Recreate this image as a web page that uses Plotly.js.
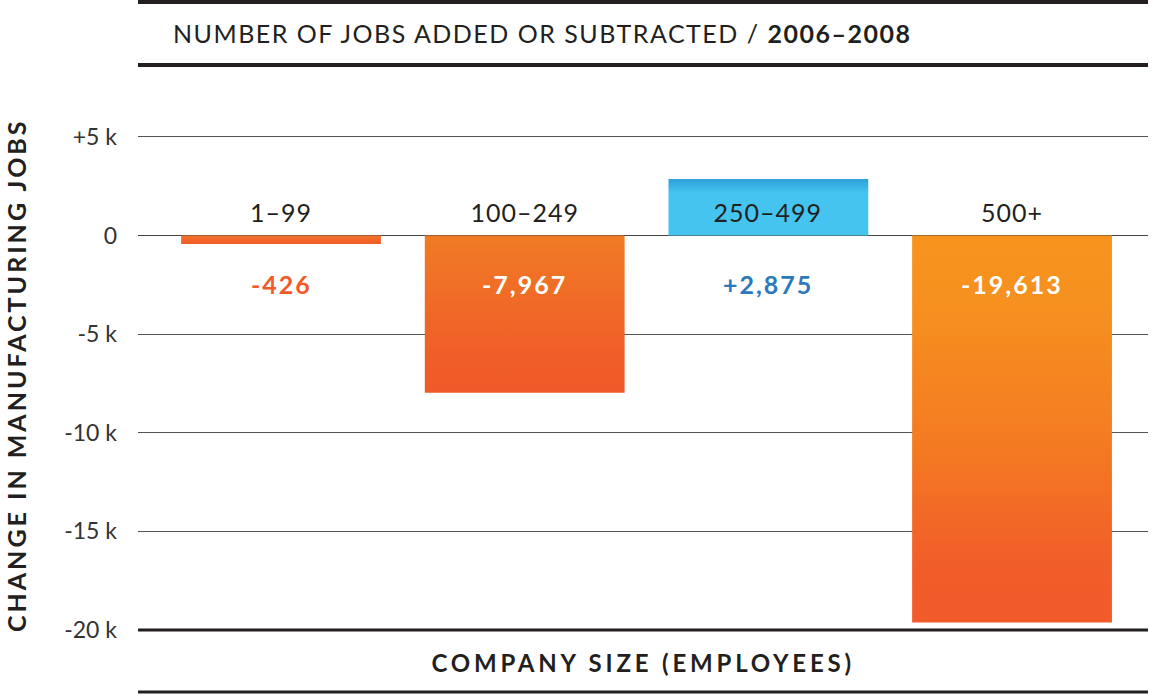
<!DOCTYPE html>
<html><head><meta charset="utf-8">
<script src="https://cdn.plot.ly/plotly-3.0.1.min.js"></script>
<style>
html,body{margin:0;padding:0;background:#fff}
#chart{width:1153px;height:700px}
.gtitle{letter-spacing:1.5px}
g.annotation[data-index="0"] text, g.annotation[data-index="1"] text,
g.annotation[data-index="2"] text, g.annotation[data-index="3"] text{letter-spacing:1px}
g.annotation[data-index="4"] text, g.annotation[data-index="5"] text,
g.annotation[data-index="6"] text, g.annotation[data-index="7"] text{letter-spacing:2px}
g.annotation[data-index="8"] text{letter-spacing:3px}
g.annotation[data-index="9"] text{letter-spacing:3.8px}
.barlayer .point:nth-child(1) path{fill:url(#bargrad0) !important}
.barlayer .point:nth-child(2) path{fill:url(#bargrad1) !important}
.barlayer .point:nth-child(3) path{fill:url(#bargrad2) !important}
.barlayer .point:nth-child(4) path{fill:url(#bargrad3) !important}
</style>
</head><body>
<svg width="0" height="0" style="position:absolute;left:0;top:0" aria-hidden="true">
  <defs>
    <linearGradient id="bargrad0" x1="0" y1="0" x2="0" y2="1">
      <stop offset="0" stop-color="#f3742a"/><stop offset="1" stop-color="#f05a28"/>
    </linearGradient>
    <linearGradient id="bargrad1" x1="0" y1="0" x2="0" y2="1">
      <stop offset="0" stop-color="#f07b25"/><stop offset="0.75" stop-color="#f05e28"/><stop offset="1" stop-color="#f05a28"/>
    </linearGradient>
    <linearGradient id="bargrad2" x1="0" y1="0" x2="0" y2="1">
      <stop offset="0" stop-color="#2e9fd8"/><stop offset="0.25" stop-color="#45c4f0"/><stop offset="1" stop-color="#45c4f0"/>
    </linearGradient>
    <linearGradient id="bargrad3" x1="0" y1="0" x2="0" y2="1">
      <stop offset="0" stop-color="#f7941d"/><stop offset="0.2" stop-color="#f68f1f"/><stop offset="0.55" stop-color="#f47a22"/><stop offset="0.85" stop-color="#f15d29"/><stop offset="1" stop-color="#f15a29"/>
    </linearGradient>
  </defs>
</svg>
<div id="chart"></div>
<script>
// ---- data ----
const categories = ['1–99', '100–249', '250–499', '500+'];
const jobChange = [-426, -7967, 2875, -19613];
const valueLabels = ['-426', '-7,967', '+2,875', '-19,613'];
const tickValues = [5000, 0, -5000, -10000, -15000, -20000];
const tickLabels = ['+5 k', '0', '-5 k', '-10 k', '-15 k', '-20 k'];
const chartTitle = 'NUMBER OF JOBS ADDED OR SUBTRACTED / <b>2006–2008</b>';
const xTitle = 'COMPANY SIZE (EMPLOYEES)';
const yTitle = 'CHANGE IN MANUFACTURING JOBS';

// ---- styles ----
const FONT = 'Lato, "Noto Sans", sans-serif';
const INK = '#231f20';
const ORANGE = '#f15a29';
const BLUE = '#45c4f0';
const BLUE_TEXT = '#2b78bd';
const CAT_LABEL_Y = 1200;
const VAL_LABEL_Y = -2480;

const barColors = jobChange.map(v => v < 0 ? ORANGE : BLUE);

const trace = {
  type: 'bar',
  x: categories,
  y: jobChange,
  marker: {color: barColors, line: {width: 0}},
  hoverinfo: 'x+y'
};

const annotations = [];
categories.forEach((c) => {
  annotations.push({x: c, y: CAT_LABEL_Y, xref: 'x', yref: 'y', text: c, showarrow: false,
    yanchor: 'middle', font: {family: FONT, size: 25, color: INK}});
});
jobChange.forEach((v, i) => {
  const inside = v < VAL_LABEL_Y - 1200;
  const col = inside ? '#ffffff' : (v < 0 ? ORANGE : BLUE_TEXT);
  annotations.push({x: categories[i], y: VAL_LABEL_Y, xref: 'x', yref: 'y', text: '<b>' + valueLabels[i] + '</b>',
    showarrow: false, yanchor: 'middle', font: {family: FONT, size: 25, color: col}});
});
annotations.push({xref: 'paper', yref: 'paper', x: -0.1208, y: 0.517, text: '<b>' + yTitle + '</b>',
  textangle: -90, showarrow: false, xanchor: 'center', yanchor: 'middle', font: {family: FONT, size: 25, color: INK}});
annotations.push({xref: 'paper', yref: 'paper', x: 0.5, y: -0.0604, text: '<b>' + xTitle + '</b>',
  showarrow: false, xanchor: 'center', yanchor: 'middle', font: {family: FONT, size: 24, color: INK}});

const shapes = [
  {type: 'line', xref: 'paper', yref: 'paper', x0: 0, x1: 1, y0: 1.2676, y1: 1.2676, line: {color: INK, width: 4}},
  {type: 'line', xref: 'paper', yref: 'paper', x0: 0, x1: 1, y0: 1.1408, y1: 1.1408, line: {color: INK, width: 4}},
  {type: 'line', xref: 'paper', yref: 'y', x0: 0, x1: 1, y0: -20000, y1: -20000, line: {color: INK, width: 3}},
  {type: 'line', xref: 'paper', yref: 'paper', x0: 0, x1: 1, y0: -0.1207, y1: -0.1207, line: {color: INK, width: 3}}
];

const layout = {
  width: 1153, height: 700,
  margin: {l: 138, r: 5, t: 135, b: 68},
  paper_bgcolor: '#ffffff', plot_bgcolor: '#ffffff',
  showlegend: false,
  bargap: 0.18,
  title: {text: chartTitle, xref: 'container', yref: 'container', x: 0.15, xanchor: 'left', y: 0.951, yanchor: 'middle',
    font: {family: FONT, size: 25, color: INK}},
  xaxis: {type: 'category', range: [-0.587, 3.558], showticklabels: false, showgrid: false, zeroline: false,
    showline: false, ticks: '', fixedrange: true},
  yaxis: {range: [-20100, 5100], tickvals: tickValues, ticktext: tickLabels, showgrid: true, gridcolor: '#555555',
    gridwidth: 1, zeroline: true, zerolinecolor: '#444444', zerolinewidth: 1.5, showline: false, ticks: '',
    ticklabelstandoff: 20, tickfont: {family: FONT, size: 23, color: '#333333'}, fixedrange: true},
  annotations: annotations,
  shapes: shapes
};

Plotly.newPlot('chart', [trace], layout, {displayModeBar: false, staticPlot: true});
</script>
</body></html>
